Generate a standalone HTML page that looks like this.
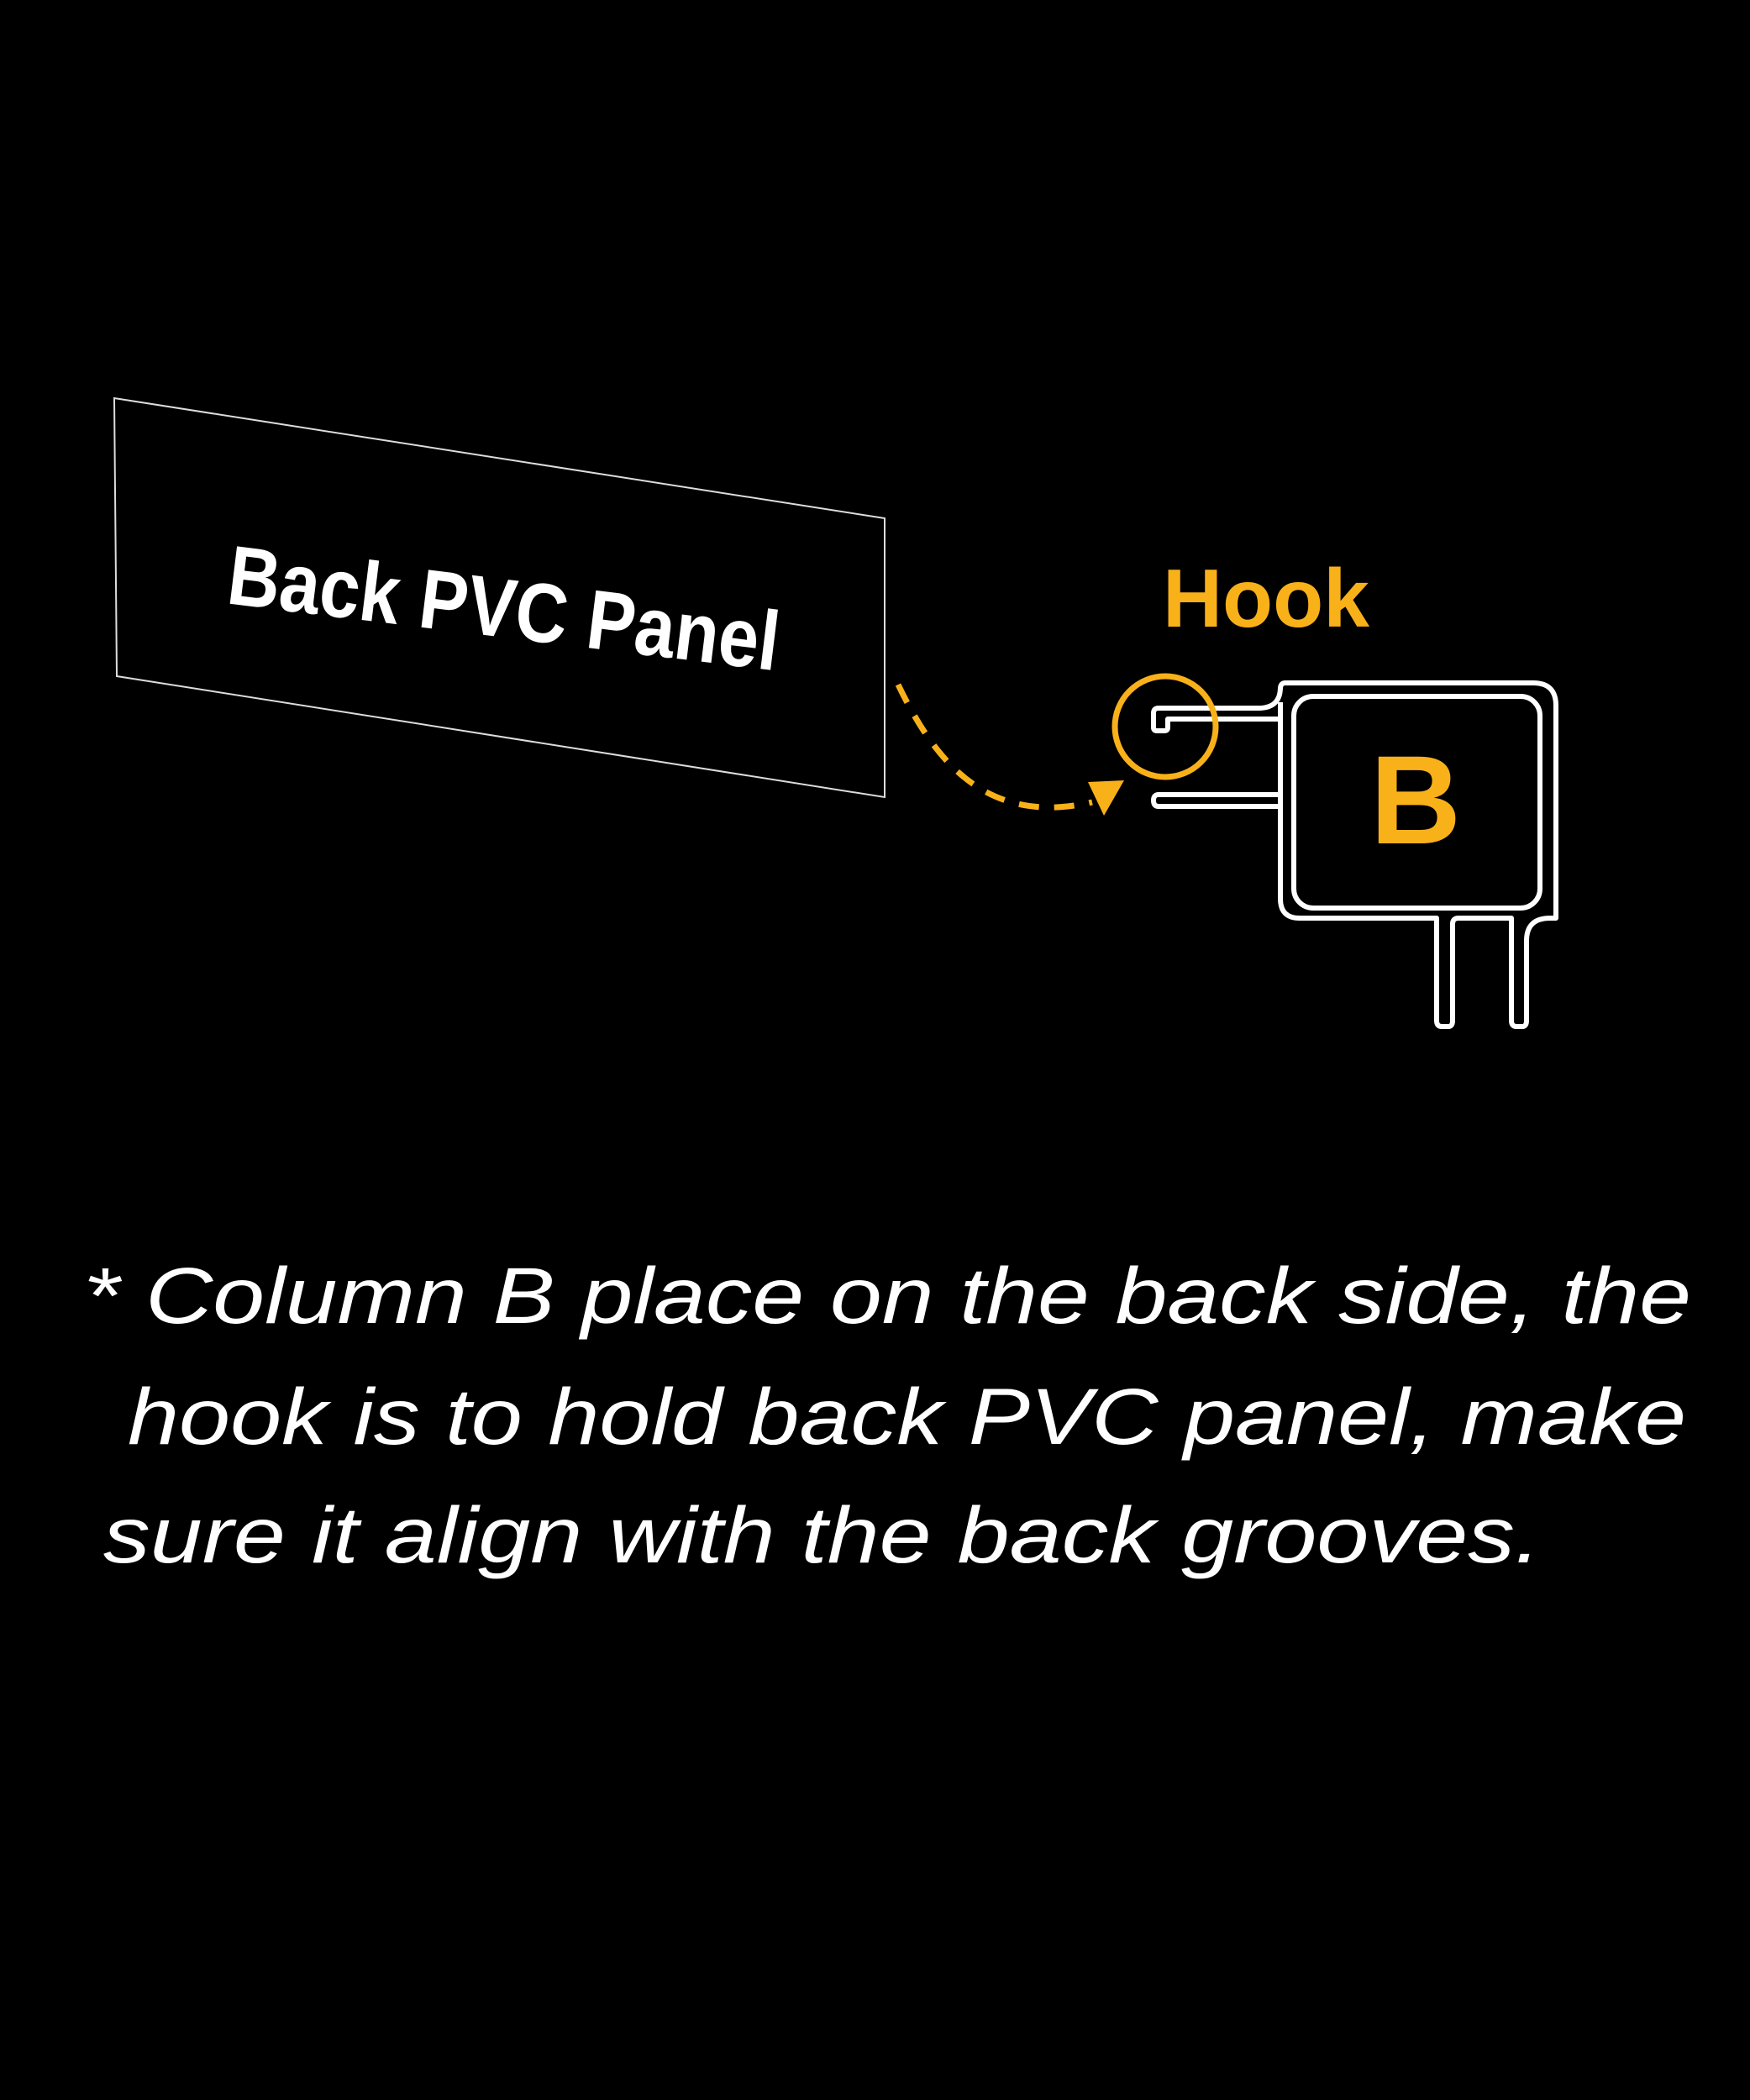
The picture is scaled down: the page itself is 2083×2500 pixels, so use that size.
<!DOCTYPE html>
<html><head><meta charset="utf-8"><style>
html,body{margin:0;padding:0;background:#000;}
svg{display:block;}
</style></head><body>
<svg width="2083" height="2500" viewBox="0 0 2083 2500" xmlns="http://www.w3.org/2000/svg">
<rect width="2083" height="2500" fill="#000"/>
<polygon points="136,474 1053,617 1053,949 139,805" fill="none" stroke="#ddd" stroke-width="2"/>
<text x="0" y="0" transform="translate(268,718) rotate(7)" font-family="Liberation Sans, sans-serif" font-weight="bold" font-size="100" fill="#fff" textLength="660" lengthAdjust="spacingAndGlyphs">Back PVC Panel</text>
<path d="M1069,815 C1110,900 1170,985 1300,955" fill="none" stroke="#F9B11A" stroke-width="7" stroke-dasharray="24,18"/>
<polygon points="1295,931 1338,929 1314,971" fill="#F9B11A"/>
<text x="1384" y="746" font-family="Liberation Sans, sans-serif" font-weight="bold" font-size="98" fill="#F9B11A" textLength="246" lengthAdjust="spacingAndGlyphs">Hook</text>
<g fill="none" stroke="#fff" stroke-width="6" stroke-linejoin="round">
<path d="M1524,836 L1524,1070 Q1524,1093 1547,1093 L1710,1093 L1710,1215 Q1710,1222 1716,1222 L1724,1222 Q1729,1222 1729,1215 L1729,1100 Q1729,1093 1736,1093 L1799,1093 L1799,1215 Q1799,1222 1805,1222 L1812,1222 Q1817,1222 1817,1215 L1817,1120 Q1817,1093 1845,1093 L1852,1093 L1852,840 Q1852,813 1825,813 L1530,813 Q1524,813 1524,820"/>
<rect x="1540" y="829" width="293" height="252" rx="23" ry="23"/>
<path d="M1524,818 Q1524,843 1498,843 L1379,843 Q1373,843 1373,849 L1373,866 Q1373,870 1377,870 L1386,870 Q1390,870 1390,866 L1390,856 L1524,856"/>
<path d="M1524,946 L1379,946 Q1373,946 1373,953 Q1373,960 1379,960 L1524,960"/>
</g>
<circle cx="1387" cy="865" r="60" fill="none" stroke="#F9B11A" stroke-width="7"/>
<text x="1685" y="1004" text-anchor="middle" font-family="Liberation Sans, sans-serif" font-weight="bold" font-size="150" fill="#F9B11A">B</text>
<g font-family="Liberation Sans, sans-serif" font-style="italic" font-size="95" fill="#fff">
<text x="99" y="1575" textLength="1914" lengthAdjust="spacingAndGlyphs">* Column B place on the back side, the</text>
<text x="152" y="1719" textLength="1855" lengthAdjust="spacingAndGlyphs">hook is to hold back PVC panel, make</text>
<text x="123" y="1860" textLength="1711" lengthAdjust="spacingAndGlyphs">sure it align with the back grooves.</text>
</g>
</svg>
</body></html>
